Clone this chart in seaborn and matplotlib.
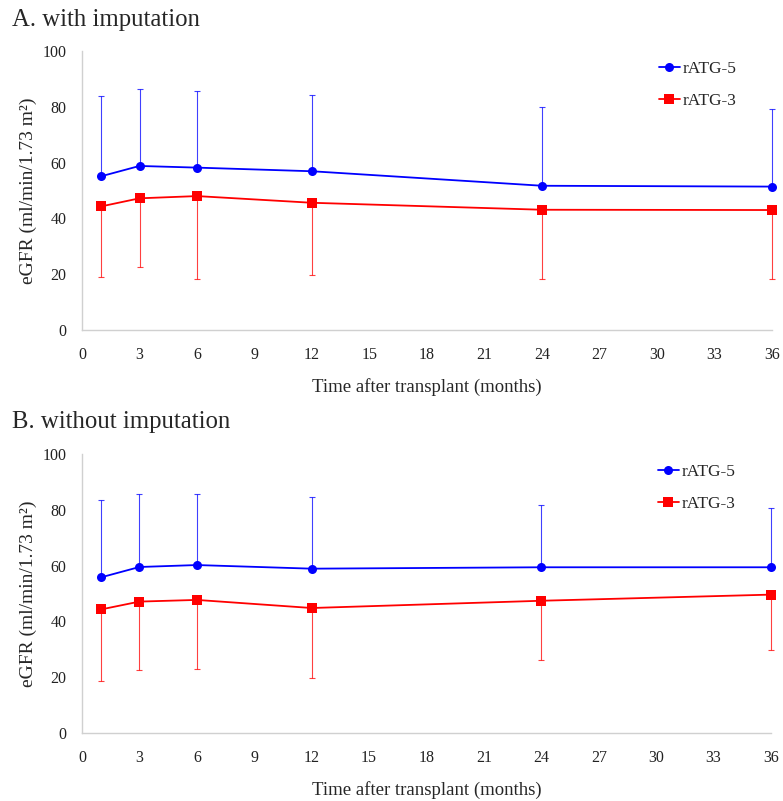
import seaborn as sns
import pandas as pd
import numpy as np
import matplotlib.pyplot as plt

# months after transplant
months = [1, 3, 6, 12, 24, 36]

# A. with imputation
a_rtg5_mean = [55.1, 58.8, 58.2, 56.9, 51.7, 51.4]
a_rtg5_sd = [28.8, 27.5, 27.3, 27.4, 28.1, 27.9]
a_rtg3_mean = [44.3, 47.2, 48.0, 45.6, 43.1, 43.0]
a_rtg3_sd = [25.4, 24.5, 29.8, 25.8, 24.9, 24.8]

# B. without imputation
b_rtg5_mean = [55.8, 59.5, 60.2, 58.9, 59.4, 59.4]
b_rtg5_sd = [27.8, 26.3, 25.6, 25.7, 22.3, 21.4]
b_rtg3_mean = [44.3, 47.1, 47.7, 44.8, 47.4, 49.6]
b_rtg3_sd = [25.6, 24.5, 24.8, 25.2, 21.1, 20.0]

groups = ['rATG-5', 'rATG-3']
colors = {'rATG-5': '#0000ff', 'rATG-3': '#ff0000'}
markers = {'rATG-5': 'o', 'rATG-3': 's'}

sns.set_style('white')
plt.rcParams['font.family'] = ['Liberation Serif', 'DejaVu Serif']

fig = plt.figure(figsize=(7.83, 8.01), dpi=100)
ax_a = fig.add_axes([82 / 783, 1 - 330 / 801, 690 / 783, 279 / 801])
ax_b = fig.add_axes([82 / 783, 1 - 733 / 801, 689 / 783, 279 / 801])

panels = [
    (ax_a, 'A. with imputation', a_rtg5_mean, a_rtg5_sd, a_rtg3_mean, a_rtg3_sd, 26),
    (ax_b, 'B. without imputation', b_rtg5_mean, b_rtg5_sd, b_rtg3_mean, b_rtg3_sd, 428),
]

for ax, title, m5, s5, m3, s3, title_y in panels:
    df = pd.DataFrame({
        'month': months * 2,
        'egfr': m5 + m3,
        'group': ['rATG-5'] * len(months) + ['rATG-3'] * len(months),
    })

    # one-sided SD bars: up for rATG-5, down for rATG-3
    ax.errorbar(months, m5, yerr=[np.zeros(len(s5)), s5], fmt='none',
                ecolor=colors['rATG-5'], elinewidth=0.8, capsize=2, capthick=0.8,
                alpha=0.75, zorder=1)
    ax.errorbar(months, m3, yerr=[s3, np.zeros(len(s3))], fmt='none',
                ecolor=colors['rATG-3'], elinewidth=0.8, capsize=2, capthick=0.8,
                alpha=0.75, zorder=1)

    sns.lineplot(data=df, x='month', y='egfr', hue='group', style='group',
                 hue_order=groups, style_order=groups,
                 palette=colors, markers=markers, dashes=False,
                 markersize=6.5, markeredgewidth=0, linewidth=1.3,
                 ax=ax, zorder=3)

    # points at 36 months sit on the axis edge
    for art in ax.lines + list(ax.collections):
        art.set_clip_on(False)

    ax.set_xlim(0, 36)
    ax.set_ylim(0, 100)
    ax.set_xticks(range(0, 37, 3))
    ax.set_yticks(range(0, 101, 20))
    ax.tick_params(axis='both', length=0, labelsize=11.5, colors='#222222')
    ax.tick_params(axis='x', pad=12)
    ax.tick_params(axis='y', pad=11)
    sns.despine(ax=ax)
    for side in ['left', 'bottom']:
        ax.spines[side].set_color('#d0d0d0')
        ax.spines[side].set_linewidth(1.0)

    ax.set_xlabel('Time after transplant (months)', fontsize=13.5, labelpad=11)
    ax.set_ylabel('eGFR (ml/min/1.73 m²)', fontsize=14, labelpad=4)

    handles, labels = ax.get_legend_handles_labels()
    ax.legend(handles, labels, loc='upper right', bbox_to_anchor=(0.971, 1.02),
              frameon=False, fontsize=12.5, labelspacing=0.9,
              handlelength=1.2, handletextpad=0.15)

    fig.text(12 / 783, 1 - title_y / 801, title, fontsize=17.8, ha='left',
             va='baseline')

plt.savefig('out.png', dpi=100)
